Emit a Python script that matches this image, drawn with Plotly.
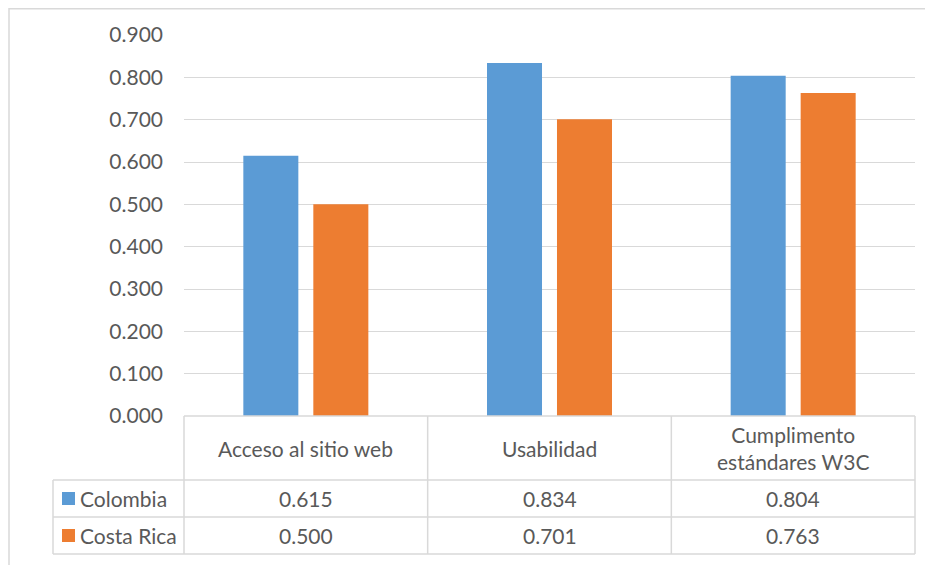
import plotly.graph_objects as go

categories = ["Acceso al sitio web", "Usabilidad", "Cumplimento<br>estándares W3C"]
series_names = ["Colombia", "Costa Rica"]
colombia = [0.615, 0.834, 0.804]
costa_rica = [0.500, 0.701, 0.763]
series_values = [colombia, costa_rica]
colors = ["#5B9BD5", "#ED7D31"]
y_ticks = [0.0, 0.1, 0.2, 0.3, 0.4, 0.5, 0.6, 0.7, 0.8, 0.9]

W, H = 933, 565
OFF = 8  # page body margin in the browser
L, R, T, B = 184 - OFF, 915 - OFF, 35 - OFF, 416 - OFF  # plot area in pixels
GRID = "#D9D9D9"
TEXT = "#595959"
FONT = "Lato"
FS = 21


def px_x(p):
    return (p - L) / (R - L)


def px_y(p):
    return (B - p) / (B - T)


fig = go.Figure()
for name, vals, col in zip(series_names, series_values, colors):
    fig.add_trace(go.Bar(x=list(range(len(categories))), y=vals, name=name,
                         marker=dict(color=col, line=dict(width=0))))

fig.update_layout(
    width=W, height=H, autosize=False,
    margin=dict(l=L, r=W - R, t=T, b=H - B),
    plot_bgcolor="white", paper_bgcolor="white",
    barmode="group", bargap=0.4255, bargroupgap=0.214,
    showlegend=False,
    font=dict(family=FONT, color=TEXT, size=FS),
)
fig.update_xaxes(range=[-0.5, len(categories) - 0.5], showticklabels=False,
                 showgrid=False, zeroline=False, showline=False)
fig.update_yaxes(range=[0, 0.9], tickvals=y_ticks, tickformat=".3f",
                 showgrid=True, gridcolor=GRID, gridwidth=1,
                 zeroline=False, showline=False, ticklabelstandoff=20,
                 tickfont=dict(size=FS, color=TEXT, family=FONT))

line = dict(color=GRID, width=1.5)
# outer chart border
fig.add_shape(type="rect", xref="paper", yref="paper",
              x0=px_x(9 - OFF), x1=px_x(W + 5), y0=px_y(H + 5), y1=px_y(0.8),
              line=line, layer="below")

# data table
row_edges = [B, 480 - OFF, 517 - OFF, 554 - OFF]
col_edges = [L + i * (R - L) / len(categories) for i in range(len(categories) + 1)]
legend_left = 53 - OFF
for i, yy in enumerate(row_edges):
    x0 = L if i == 0 else legend_left
    fig.add_shape(type="line", xref="paper", yref="paper",
                  x0=px_x(x0), x1=px_x(R), y0=px_y(yy), y1=px_y(yy), line=line)
for xx in col_edges:
    fig.add_shape(type="line", xref="paper", yref="paper",
                  x0=px_x(xx), x1=px_x(xx), y0=px_y(B), y1=px_y(row_edges[-1]), line=line)
fig.add_shape(type="line", xref="paper", yref="paper",
              x0=px_x(legend_left), x1=px_x(legend_left),
              y0=px_y(row_edges[1]), y1=px_y(row_edges[-1]), line=line)

# header labels
for i, cat in enumerate(categories):
    fig.add_annotation(x=i, xref="x", y=px_y((row_edges[0] + row_edges[1]) / 2), yref="paper",
                       text=cat, showarrow=False, xanchor="center", yanchor="middle",
                       font=dict(size=FS, color=TEXT, family=FONT))

# rows
for r, (name, vals, col) in enumerate(zip(series_names, series_values, colors)):
    yc = (row_edges[r + 1] + row_edges[r + 2]) / 2
    fig.add_shape(type="rect", xref="paper", yref="paper",
                  x0=px_x(62 - OFF), x1=px_x(75 - OFF), y0=px_y(yc - 6.5), y1=px_y(yc + 6.5),
                  fillcolor=col, line=dict(width=0))
    fig.add_annotation(x=px_x(78 - OFF), xref="paper", y=px_y(yc), yref="paper",
                       text=name, showarrow=False, xanchor="left", yanchor="middle",
                       font=dict(size=FS, color=TEXT, family=FONT))
    for i, v in enumerate(vals):
        fig.add_annotation(x=i, xref="x", y=px_y(yc), yref="paper",
                           text=f"{v:.3f}", showarrow=False,
                           xanchor="center", yanchor="middle",
                           font=dict(size=FS, color=TEXT, family=FONT))

fig.write_html("out.html")
